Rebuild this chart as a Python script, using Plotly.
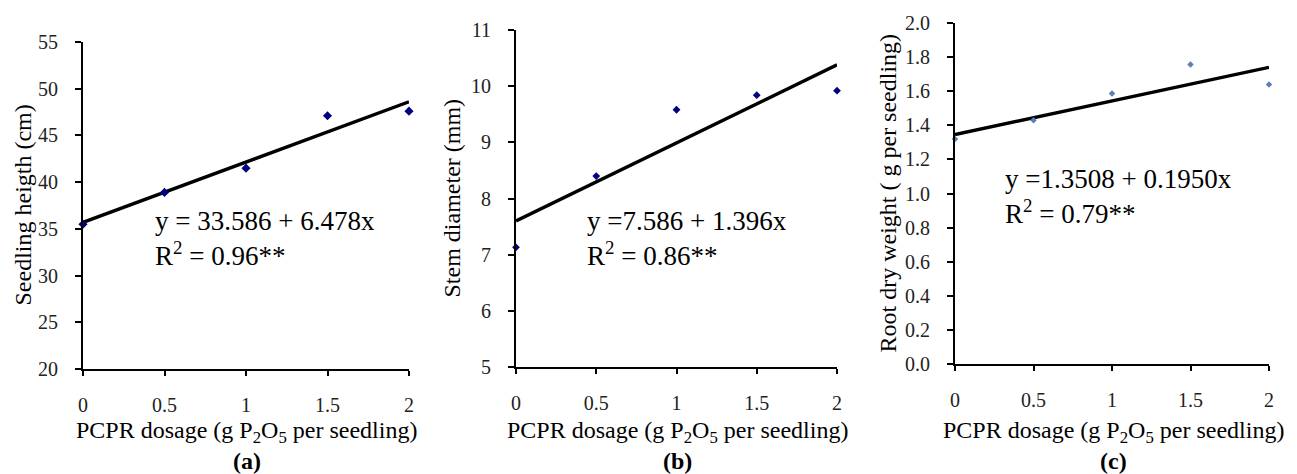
import plotly.graph_objects as go

# ---- data ----
dosage = [0, 0.5, 1, 1.5, 2]
seedling_height = [35.5, 38.9, 41.5, 47.1, 47.6]
stem_diameter = [7.13, 8.40, 9.58, 9.84, 9.92]
root_dry_weight = [1.32, 1.43, 1.586, 1.756, 1.64]

trend_x = [0, 2]
trend_a = [35.7, 48.6]
trend_b = [7.60, 10.38]
trend_c = [1.346, 1.74]

eq_a = "y = 33.586 + 6.478x<br>R<sup>2</sup> = 0.96**"
eq_b = "y =7.586 + 1.396x<br>R<sup>2</sup> = 0.86**"
eq_c = "y =1.3508 + 0.1950x<br>R<sup>2</sup> = 0.79**"

ytitle_a = "Seedling heigth (cm)"
ytitle_b = "Stem diameter (mm)"
ytitle_c = "Root dry weight ( g per seedling)"
xtitle = "PCPR dosage (g P<sub>2</sub>O<sub>5</sub> per seedling)"
panel_labels = ["(a)", "(b)", "(c)"]

W, H = 1297, 474
FONT = "Liberation Serif"

def fx(px):
    return px / W

def fy(py):
    return 1 - py / H

# panel geometry (pixels): left, right, top, bottom
panels = [
    (83, 409, 42, 369),
    (516, 837, 30, 367),
    (955, 1269, 23, 364),
]

fig = go.Figure()

series = [
    (seedling_height, trend_a, "#000080", 7),
    (stem_diameter, trend_b, "#000080", 6),
    (root_dry_weight, trend_c, "#5B7FB8", 5),
]

for i, (vals, tr, col, ms) in enumerate(series):
    xa = "x" if i == 0 else f"x{i+1}"
    ya = "y" if i == 0 else f"y{i+1}"
    fig.add_trace(go.Scatter(x=trend_x, y=tr, mode="lines",
                             line=dict(color="black", width=3.4),
                             xaxis=xa, yaxis=ya, showlegend=False,
                             cliponaxis=False))
    fig.add_trace(go.Scatter(x=dosage, y=vals, mode="markers",
                             marker=dict(symbol="diamond", size=ms, color=col),
                             xaxis=xa, yaxis=ya, showlegend=False,
                             cliponaxis=False))

yranges = [[20, 55], [5, 11], [0, 2.0]]
ydticks = [5, 1, 0.2]
yfmts = ["d", "d", ".1f"]

layout = dict(
    width=W, height=H,
    margin=dict(l=0, r=0, t=0, b=0, autoexpand=False),
    paper_bgcolor="white", plot_bgcolor="white",
    font=dict(family=FONT, color="black"),
)

for i, (l, r, t, b) in enumerate(panels):
    sx = "xaxis" if i == 0 else f"xaxis{i+1}"
    sy = "yaxis" if i == 0 else f"yaxis{i+1}"
    ya = "y" if i == 0 else f"y{i+1}"
    xa = "x" if i == 0 else f"x{i+1}"
    layout[sx] = dict(
        domain=[fx(l), fx(r)], range=[0, 2], anchor=ya,
        tickvals=dosage, ticktext=["0", "0.5", "1", "1.5", "2"],
        showline=True, linecolor="black", linewidth=2,
        ticks="outside", ticklen=5, tickwidth=2, tickcolor="black",
        showgrid=False, zeroline=False, automargin=False,
        tickfont=dict(family=FONT, size=20, color="#222"),
        ticklabelstandoff=12,
    )
    layout[sy] = dict(
        domain=[fy(b), fy(t)], range=yranges[i], anchor=xa,
        dtick=ydticks[i], tick0=0, tickformat=yfmts[i],
        showline=True, linecolor="black", linewidth=2,
        ticks="outside", ticklen=6, tickwidth=2, tickcolor="black",
        showgrid=False, zeroline=False, automargin=False,
        tickfont=dict(family=FONT, size=20, color="#222"),
        ticklabelstandoff=13,
    )

fig.update_layout(**layout)

ytitles = [ytitle_a, ytitle_b, ytitle_c]
ytitle_x = [22, 452, 888]
eqs = [eq_a, eq_b, eq_c]
eq_pos = [(153, 238), (585, 239), (1003, 196)]

for i, (l, r, t, b) in enumerate(panels):
    cx = (l + r) / 2
    fig.add_annotation(text=ytitles[i], xref="paper", yref="paper",
                       x=fx(ytitle_x[i]), y=fy((t + b) / 2), textangle=-90,
                       showarrow=False, xanchor="center", yanchor="middle",
                       font=dict(family=FONT, size=24, color="black"))
    fig.add_annotation(text=xtitle, xref="paper", yref="paper",
                       x=fx(cx + 1), y=fy(432), showarrow=False,
                       xanchor="center", yanchor="middle",
                       font=dict(family=FONT, size=24, color="black"))
    fig.add_annotation(text="<b>" + panel_labels[i] + "</b>", xref="paper", yref="paper",
                       x=fx(cx + 1), y=fy(461), showarrow=False,
                       xanchor="center", yanchor="middle",
                       font=dict(family=FONT, size=24, color="black"))
    ex, ey = eq_pos[i]
    fig.add_annotation(text=eqs[i], xref="paper", yref="paper",
                       x=fx(ex), y=fy(ey), showarrow=False,
                       xanchor="left", yanchor="middle", align="left",
                       font=dict(family=FONT, size=27, color="black"))

fig.write_html("out.html", config={"displayModeBar": False},
               post_script="document.body.style.margin='0';document.body.style.overflow='hidden';")
